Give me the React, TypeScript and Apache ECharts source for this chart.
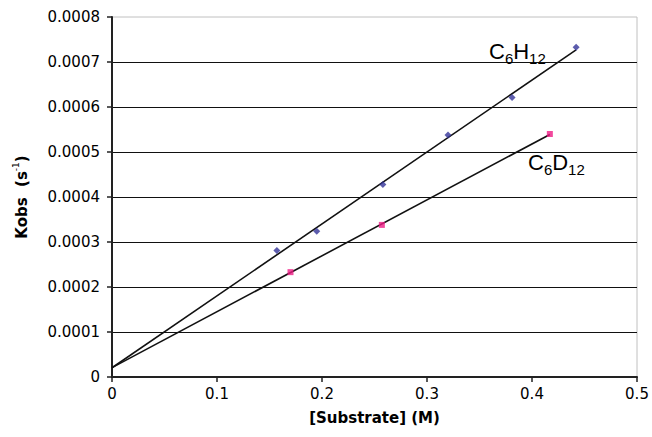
import React, { useEffect, useRef } from "react";
import * as echarts from "echarts";

// [Substrate] (M) values and Kobs (s^-1) values
const h12X = [0.157, 0.195, 0.258, 0.32, 0.381, 0.442];
const h12Y = [0.000281, 0.000324, 0.000428, 0.000538, 0.000621, 0.000733];
const d12X = [0.17, 0.257, 0.417];
const d12Y = [0.000233, 0.000338, 0.00054];

// trend line end points
const h12TrendX = [0, 0.442];
const h12TrendY = [0.0000205, 0.000727];
const d12TrendX = [0, 0.417];
const d12TrendY = [0.0000208, 0.000539];

const xTicks = [0, 0.1, 0.2, 0.3, 0.4, 0.5];
const yTicks = [0, 0.0001, 0.0002, 0.0003, 0.0004, 0.0005, 0.0006, 0.0007, 0.0008];

const seriesLabels = [
  { text: "{n|C}{s|6}{n|H}{s|12}", x: 489, y: 40 },
  { text: "{n|C}{s|6}{n|D}{s|12}", x: 528, y: 151 },
];

const zip = (xs: number[], ys: number[]) => xs.map((x, i) => [x, ys[i]]);

const TICK_FONT = "DejaVu Sans, Verdana, sans-serif";
const LABEL_FONT = "Liberation Sans, Arial, sans-serif";

export default function App() {
  const ref = useRef<HTMLDivElement>(null);
  useEffect(() => {
    if (!ref.current) return;
    const chart = echarts.init(ref.current, null, { renderer: "svg" });
    const labelRich = {
      n: { fontSize: 22, lineHeight: 26, fontFamily: LABEL_FONT, color: "#000", verticalAlign: "top" },
      s: { fontSize: 15, lineHeight: 15, fontFamily: LABEL_FONT, color: "#000", verticalAlign: "bottom" },
    };
    chart.setOption({
      animation: false,
      backgroundColor: "#fff",
      grid: {
        left: 112,
        right: 15,
        top: 17,
        bottom: 60,
        show: true,
        borderColor: "#c0c0c0",
        borderWidth: 1,
        backgroundColor: "transparent",
      },
      xAxis: {
        type: "value",
        min: xTicks[0],
        max: xTicks[xTicks.length - 1],
        interval: 0.1,
        name: "[Substrate] (M)",
        nameLocation: "middle",
        nameGap: 33,
        nameTextStyle: { fontFamily: TICK_FONT, fontWeight: "bold", fontSize: 15, color: "#000" },
        axisLine: { show: true, onZero: false, lineStyle: { color: "#222", width: 2 } },
        axisTick: { show: true, inside: false, length: 5, lineStyle: { color: "#222", width: 1.5 } },
        axisLabel: {
          margin: 9,
          fontFamily: TICK_FONT,
          fontSize: 15,
          color: "#000",
          formatter: (v: number) => (v === 0 ? "0" : v.toFixed(1)),
        },
        splitLine: { show: false },
      },
      yAxis: {
        type: "value",
        min: yTicks[0],
        max: yTicks[yTicks.length - 1],
        interval: 0.0001,
        name: "{b|Kobs  (s}{sup|-1}{b|)}",
        nameLocation: "middle",
        nameGap: 83,
        nameTextStyle: {
          rich: {
            b: { fontFamily: TICK_FONT, fontWeight: "bold", fontSize: 15, lineHeight: 18, color: "#000", verticalAlign: "bottom" },
            sup: { fontFamily: TICK_FONT, fontSize: 9, lineHeight: 9, color: "#000", verticalAlign: "top" },
          },
        },
        axisLine: { show: true, onZero: false, lineStyle: { color: "#222", width: 2 } },
        axisTick: { show: true, inside: false, length: 5, lineStyle: { color: "#222", width: 1.5 } },
        axisLabel: {
          margin: 12,
          fontFamily: TICK_FONT,
          fontSize: 15,
          color: "#000",
          formatter: (v: number) => (v === 0 ? "0" : v.toFixed(4)),
        },
        splitLine: { show: true, showMinLine: false, showMaxLine: false, lineStyle: { color: "#111", width: 1 } },
      },
      series: [
        {
          type: "line",
          data: zip(h12TrendX, h12TrendY),
          symbol: "none",
          lineStyle: { color: "#111", width: 1.6 },
          silent: true,
          z: 2,
        },
        {
          type: "line",
          data: zip(d12TrendX, d12TrendY),
          symbol: "none",
          lineStyle: { color: "#111", width: 1.6 },
          silent: true,
          z: 2,
        },
        {
          type: "scatter",
          data: zip(h12X, h12Y),
          symbol: "diamond",
          symbolSize: 7,
          itemStyle: { color: "#333399" },
          z: 3,
        },
        {
          type: "scatter",
          data: zip(d12X, d12Y),
          symbol: "rect",
          symbolSize: 6,
          itemStyle: { color: "#ee1c84" },
          z: 3,
        },
      ],
      graphic: seriesLabels.map((l) => ({
        type: "text",
        x: l.x,
        y: l.y,
        z: 10,
        style: { text: l.text, rich: labelRich, verticalAlign: "top", align: "left" },
      })),
    });
    return () => chart.dispose();
  }, []);
  return (
    <div
      ref={ref}
      style={{ position: "fixed", left: 0, top: 0, width: 652, height: 437, background: "#fff" }}
    />
  );
}
